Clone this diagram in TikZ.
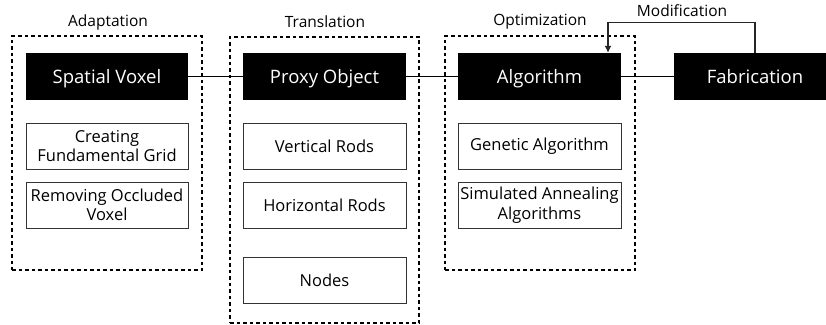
\documentclass[tikz,border=0pt]{standalone}
\usepackage{fontspec}
\setmainfont{Open Sans}
\usetikzlibrary{arrows.meta,calc}
\tikzset{
  stage/.style={draw=none,fill=black,text=white,minimum width=162pt,minimum height=47pt,
    inner sep=0pt,text height=13pt,text depth=0pt,font=\fontsize{18.5}{21}\selectfont},
  task/.style={draw=black!80,line width=1pt,fill=white,minimum width=162pt,minimum height=46pt,
    inner sep=0pt,align=center,font=\fontsize{16.5}{19.5}\selectfont},
  group/.style={draw=black,line width=2pt,dash pattern=on 3.5pt off 3pt,minimum width=190pt,
    inner sep=0pt},
  caption/.style={font=\fontsize{15.5}{18}\selectfont,inner sep=0pt},
  link/.style={draw=black,line width=1.5pt},
  feedback/.style={draw=black!85,line width=1.2pt,-{Latex[length=7pt,width=7pt]}}
}
\begin{document}
\begin{tikzpicture}[x=1pt,y=-1pt]
  \useasboundingbox (0,0) rectangle (826,324);
  \clip (0,0) rectangle (826,324);

  % dotted group frames
  \node[group,minimum height=234pt] (gA) at (107,153) {};
  \node[group,minimum width=189pt,minimum height=286pt] (gT) at (324.5,179.5) {};
  \node[group,minimum height=234pt] (gO) at (540,153) {};

  % group captions
  \node[caption] (cA) at (108,22) {Adaptation};
  \node[caption] (cT) at (325,22) {Translation};
  \node[caption] (cO) at (540,22) {Optimization};
  \node[caption] (cM) at (682,11) {Modification};

  % main stages
  \node[stage] (sv)  at (107,76.5)   {Spatial Voxel};
  \node[stage,minimum width=163pt] (po)  at (324.5,76.5) {Proxy Object};
  \node[stage,minimum width=163pt] (alg) at (539.5,76.5) {Algorithm};
  \node[stage] (fab) at (755,76.5)   {Fabrication};

  % sub tasks
  \node[task] (t1) at (107,146) {Creating\\Fundamental Grid};
  \node[task] (t2) at (107,205) {Removing Occluded\\Voxel};
  \node[task,minimum width=163pt] (t3) at (324.5,146) {Vertical Rods};
  \node[task,minimum width=163pt] (t4) at (324.5,205) {Horizontal Rods};
  \node[task,minimum width=163pt] (t5) at (324.5,280) {Nodes};
  \node[task,minimum width=163pt] (t6) at (539.5,146) {Genetic Algorithm};
  \node[task,minimum width=163pt] (t7) at (539.5,205) {Simulated Annealing\\Algorithms};

  % connectors between stages
  \draw[link] (sv.east) -- (po.west);
  \draw[link] (po.east) -- (alg.west);
  \draw[link] (alg.east) -- (fab.west);

  % feedback loop
  \coordinate (in) at ($(alg.north)+(68.5,0)$);
  \draw[feedback] (fab.north) |- ($(in)+(0,-30)$) -- (in);
\end{tikzpicture}
\end{document}
